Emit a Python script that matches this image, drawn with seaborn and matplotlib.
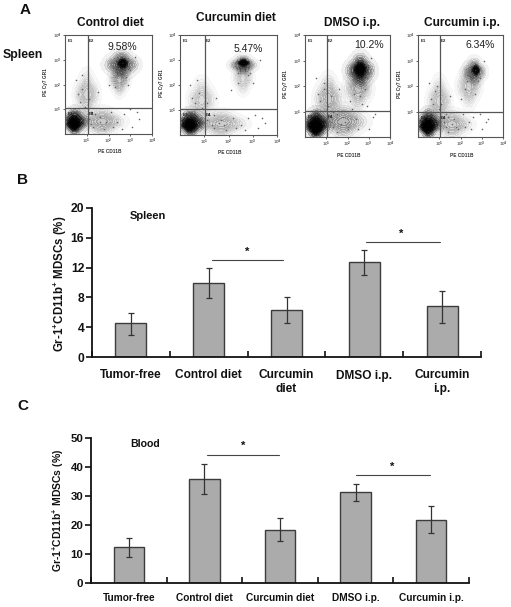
import matplotlib
matplotlib.use("Agg")
import matplotlib.pyplot as plt
from matplotlib.colors import LinearSegmentedColormap
import seaborn as sns
import pandas as pd

# Bar chart values
groups_b = ["Tumor-free", "Control diet", "Curcumin\ndiet", "DMSO i.p.", "Curcumin\ni.p."]
spleen_mean = [4.5, 10.0, 6.3, 12.7, 6.8]
spleen_low = [3.0, 7.9, 4.5, 11.0, 4.6]
spleen_high = [5.9, 12.0, 8.0, 14.4, 8.9]

groups_c = ["Tumor-free", "Control diet", "Curcumin diet", "DMSO i.p.", "Curcumin i.p."]
blood_mean = [12.4, 36.0, 18.2, 31.3, 21.8]
blood_low = [9.0, 30.8, 14.4, 28.2, 17.2]
blood_high = [15.5, 41.2, 22.4, 34.2, 26.4]

# Flow panels: estimated cell clouds in log decades
flow_names = ["Control diet", "Curcumin diet", "DMSO i.p.", "Curcumin i.p."]
flow_pcts = ["9.58%", "5.47%", "10.2%", "6.34%"]

cloud_x = [
    [1.7, 1.0, 2.5, 2.6, 2.65, 0.45, 0.42],
    [1.7, 0.9, 2.6, 2.6, 2.62, 0.45, 0.40],
    [1.8, 1.1, 2.5, 2.6, 2.60, 0.55, 0.50],
    [1.6, 1.0, 2.4, 2.65, 2.72, 0.50, 0.45],
]
cloud_y = [
    [0.5, 1.6, 2.2, 2.8, 2.85, 0.50, 0.42],
    [0.45, 1.4, 2.3, 2.8, 2.88, 0.48, 0.40],
    [0.6, 1.5, 1.9, 2.6, 2.65, 0.50, 0.42],
    [0.5, 1.4, 2.0, 2.55, 2.62, 0.52, 0.42],
]
cloud_sx = [
    [0.55, 0.30, 0.25, 0.42, 0.15, 0.33, 0.18],
    [0.55, 0.30, 0.22, 0.30, 0.14, 0.34, 0.18],
    [0.60, 0.35, 0.35, 0.38, 0.18, 0.36, 0.22],
    [0.50, 0.30, 0.30, 0.30, 0.12, 0.33, 0.20],
]
cloud_sy = [
    [0.30, 0.50, 0.35, 0.32, 0.13, 0.30, 0.18],
    [0.28, 0.45, 0.35, 0.22, 0.09, 0.30, 0.17],
    [0.35, 0.50, 0.45, 0.38, 0.20, 0.33, 0.22],
    [0.30, 0.50, 0.45, 0.30, 0.13, 0.32, 0.20],
]
cloud_dark = [
    [0.22, 0.16, 0.20, 0.45, 0.85, 0.75, 1.0],
    [0.20, 0.14, 0.12, 0.40, 0.85, 0.75, 1.0],
    [0.28, 0.20, 0.20, 0.55, 1.0, 0.80, 1.0],
    [0.20, 0.16, 0.16, 0.35, 0.75, 0.75, 1.0],
]

# Scattered events picked out by eye
dots_x = [
    [0.7, 0.8, 0.5, 0.9, 1.2, 1.3, 1.6, 1.8, 2.1, 2.4, 2.7, 3.1, 3.4, 1.1, 1.5, 2.0, 2.3, 2.9, 0.6, 0.8, 1.9, 2.6, 3.0, 3.3, 1.1, 1.2, 1.4, 1.6, 2.2, 2.3, 2.8, 3.0, 3.2],
    [0.6, 0.8, 0.4, 0.9, 1.2, 1.4, 1.7, 1.9, 2.2, 2.5, 2.8, 3.2, 3.5, 1.1, 1.5, 2.1, 2.4, 3.0, 0.5, 0.7, 1.8, 2.7, 3.1, 3.4, 1.1, 1.3, 1.4, 1.6, 2.3, 2.4, 2.8, 2.9, 3.3],
    [0.7, 0.9, 0.5, 1.1, 1.3, 1.5, 1.8, 2.0, 2.2, 2.4, 2.7, 3.0, 3.3, 1.2, 1.6, 2.1, 2.3, 2.8, 0.6, 0.9, 1.9, 2.5, 2.9, 3.2, 1.2, 1.3, 1.5, 1.7, 2.0, 2.2, 2.6, 2.9, 3.1],
    [0.7, 0.8, 0.5, 1.0, 1.3, 1.4, 1.7, 1.9, 2.1, 2.4, 2.6, 3.0, 3.3, 1.1, 1.5, 2.0, 2.2, 2.8, 0.6, 0.9, 1.8, 2.5, 2.9, 3.2, 1.2, 1.3, 1.4, 1.6, 2.2, 2.3, 2.7, 2.9, 3.1],
]
dots_y = [
    [1.3, 1.8, 2.2, 1.1, 0.9, 0.3, 0.7, 0.2, 0.9, 0.5, 0.8, 0.3, 0.6, 1.4, 1.7, 2.0, 1.9, 2.0, 1.6, 2.4, 0.5, 0.2, 1.0, 0.9, 0.6, 0.4, 0.8, 0.5, 0.3, 2.5, 2.3, 2.6, 3.1],
    [1.3, 1.7, 2.0, 1.1, 0.8, 0.3, 0.6, 0.2, 0.7, 0.4, 0.7, 0.3, 0.5, 1.3, 1.5, 1.8, 2.1, 2.1, 1.5, 2.2, 0.4, 0.2, 0.8, 0.7, 0.6, 0.4, 0.8, 0.5, 0.3, 2.5, 2.4, 2.5, 3.0],
    [1.4, 1.9, 2.3, 1.2, 1.0, 0.2, 0.8, 0.3, 1.1, 0.7, 1.3, 0.3, 0.9, 1.6, 1.9, 1.4, 1.7, 1.9, 1.7, 2.1, 0.6, 0.3, 1.2, 0.8, 0.6, 0.4, 0.9, 0.5, 0.4, 2.4, 1.6, 2.3, 3.1],
    [1.3, 1.8, 2.1, 1.1, 0.9, 0.2, 0.7, 0.3, 0.9, 0.6, 0.8, 0.3, 0.7, 1.3, 1.6, 1.5, 1.9, 2.2, 1.5, 2.0, 0.4, 0.3, 0.9, 0.6, 0.6, 0.4, 0.8, 0.5, 0.4, 2.2, 1.7, 2.3, 3.0],
]
gate_x = [1.06, 1.03, 1.04, 1.04]
gate_y = [1.05, 1.04, 1.02, 0.98]

W, H = 511, 607
sns.set_theme(style="white")
plt.rcParams["font.family"] = ["Liberation Sans", "DejaVu Sans"]
plt.rcParams["mathtext.fontset"] = "custom"
plt.rcParams["mathtext.bf"] = "Liberation Sans:bold"
plt.rcParams["mathtext.rm"] = "Liberation Sans:bold"

fig = plt.figure(figsize=(W / 100, H / 100), dpi=100)


def px_axes(left, top, right, bottom):
    return fig.add_axes([left / W, 1 - bottom / H, (right - left) / W, (bottom - top) / H])


def px_text(x, y, s, **kw):
    kw.setdefault("ha", "center")
    kw.setdefault("va", "center")
    kw.setdefault("color", "#111111")
    fig.text(x / W, 1 - y / H, s, **kw)


def draw_cloud(ax, cx, cy, sx, sy, dark):
    # plus-shaped sample keeps the kde axis aligned
    xs = [cx, cx - sx, cx + sx, cx, cx]
    ys = [cy, cy, cy, cy - sy, cy + sy]
    shade = LinearSegmentedColormap.from_list("shade", [(0, 0, 0, 0.02), (0, 0, 0, dark)])
    sns.kdeplot(x=xs, y=ys, fill=True, cmap=shade, levels=10, thresh=0.03,
                bw_adjust=1.1, gridsize=80, ax=ax)


flow_boxes = [(65, 35, 152, 134), (180, 35, 277, 135), (305, 35, 390, 137), (418, 35, 503, 137)]
title_pos = [(110, 23), (236, 18), (352, 23), (462, 23)]
pct_pos = [(122, 47), (248, 49), (369, 45), (480, 45)]
frame_col = "#555555"

for i, box in enumerate(flow_boxes):
    ax = px_axes(*box)
    for j in range(len(cloud_x[i])):
        draw_cloud(ax, cloud_x[i][j], cloud_y[i][j], cloud_sx[i][j], cloud_sy[i][j], cloud_dark[i][j])
    sns.scatterplot(x=dots_x[i], y=dots_y[i], s=1.3, color="#666666", linewidth=0, ax=ax)
    ax.axvline(gate_x[i], color=frame_col, lw=0.9)
    ax.axhline(gate_y[i], color=frame_col, lw=0.9)
    ax.set_xlim(0, 4)
    ax.set_ylim(0, 4)
    ax.set_xlabel("")
    ax.set_ylabel("")
    ax.set_xticks([1, 2, 3, 4], ["10$^{1}$", "10$^{2}$", "10$^{3}$", "10$^{4}$"])
    ax.set_yticks([1, 2, 3, 4], ["10$^{1}$", "10$^{2}$", "10$^{3}$", "10$^{4}$"])
    ax.tick_params(length=1.5, width=0.5, pad=0.8, labelsize=3.2, color="#222222", labelcolor="#333333",
                   bottom=True, left=True)
    for side in ax.spines.values():
        side.set_color(frame_col)
        side.set_linewidth(0.8)
    ax.text(0.03, 0.94, "E1", transform=ax.transAxes, fontsize=3.2, weight="bold", va="center")
    ax.text(gate_x[i] / 4 + 0.01, 0.94, "E2", transform=ax.transAxes, fontsize=3.2, weight="bold", va="center")
    ax.text(0.03, gate_y[i] / 4 - 0.06, "E3", transform=ax.transAxes, fontsize=3.2, weight="bold", va="center")
    ax.text(gate_x[i] / 4 + 0.01, gate_y[i] / 4 - 0.06, "E4", transform=ax.transAxes, fontsize=3.2, weight="bold", va="center")
    px_text((box[0] + box[2]) / 2 + 1, box[3] + 18, "PE CD11B", fontsize=3.4, weight="bold", color="#333333")
    px_text(box[0] - 19, (box[1] + box[3]) / 2 - 2, "PE Cy7 GR1", fontsize=3.4, weight="bold",
            rotation=90, color="#333333")
    px_text(*title_pos[i], flow_names[i], fontsize=8.6, weight="bold")
    px_text(*pct_pos[i], flow_pcts[i], fontsize=7.5, color="#222222")

px_text(23, 55, "Spleen", fontsize=8.8, weight="bold")
px_text(25, 10, "A", fontsize=11, weight="bold")
px_text(23, 180, "B", fontsize=11, weight="bold")
px_text(23, 406, "C", fontsize=11, weight="bold")


def bar_panel(box, names, means, lows, highs, ymax, ystep, label_size, tick_size, pad):
    ax = px_axes(*box)
    table = pd.DataFrame({"group": names, "value": means})
    sns.barplot(data=table, x="group", y="value", color="#ababab", saturation=1,
                width=0.4, edgecolor="#3c3c3c", linewidth=1.0, ax=ax)
    err = [[m - l for m, l in zip(means, lows)], [h - m for m, h in zip(means, highs)]]
    ax.errorbar(range(5), means, yerr=err, fmt="none", ecolor="#333333", elinewidth=0.9, capsize=2.2, capthick=0.9)
    ax.set_xlim(-0.5, 4.5)
    ax.set_ylim(0, ymax)
    ax.set_xlabel("")
    ax.set_ylabel("")
    ax.set_yticks(list(range(0, ymax + 1, ystep)))
    ax.set_xticks([-0.5, 0.5, 1.5, 2.5, 3.5, 4.5], minor=True)
    ax.tick_params(axis="x", which="major", length=0, pad=pad, labelsize=label_size, labelcolor="#111111")
    ax.tick_params(axis="x", which="minor", length=4, width=1.2, direction="in", color="#111111", bottom=True)
    ax.tick_params(axis="y", length=4, width=1.2, pad=1.5, labelsize=tick_size, color="#111111", labelcolor="#111111", left=True)
    for tick in ax.get_xticklabels() + ax.get_yticklabels():
        tick.set_fontweight("bold")
    for side in ["top", "right"]:
        ax.spines[side].set_visible(False)
    for side in ["left", "bottom"]:
        ax.spines[side].set_color("#111111")
        ax.spines[side].set_linewidth(1.3)
    return ax


ylabel = r"Gr-1$^{\mathbf{+}}$CD11b$^{\mathbf{+}}$ MDSCs (%)"

bar_panel((92, 208, 481, 357), groups_b, spleen_mean, spleen_low, spleen_high, 20, 4, 8.6, 8.7, 9)
px_text(60, 284, ylabel, fontsize=8.3, weight="bold", rotation=90)
px_text(148, 216, "Spleen", fontsize=8, weight="bold")

bar_panel((91, 438, 469, 583), groups_c, blood_mean, blood_low, blood_high, 50, 10, 7.3, 8.2, 7)
px_text(58, 510, ylabel, fontsize=7.5, weight="bold", rotation=90)
px_text(145, 444, "Blood", fontsize=7.6, weight="bold")

# Significance brackets and stars
for x0, x1, y, sx, sy in [(212, 283, 260, 247, 252), (366, 440, 242, 401, 234),
                          (207, 279, 455, 243, 446), (356, 430, 475, 392, 467)]:
    fig.add_artist(plt.Line2D([x0 / W, x1 / W], [1 - y / H, 1 - y / H], color="#444444", lw=0.8))
    px_text(sx, sy, "*", fontsize=8, weight="bold")

fig.savefig("out.png", dpi=100)
